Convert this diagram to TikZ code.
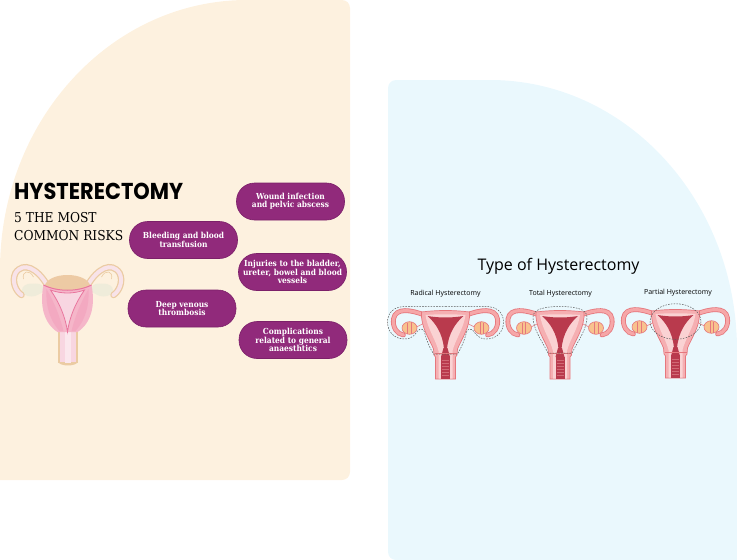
\documentclass[tikz,border=0pt]{standalone}
\usepackage{fontspec}
\setmainfont{DejaVu Serif}
\newfontfamily\headfont{Poppins}
\newfontfamily\slabfont{DejaVu Serif Condensed}
\newfontfamily\pillfont{DejaVu Serif Condensed}
\newfontfamily\typefont{Open Sans}
\definecolor{cream}{HTML}{FDF1DF}
\definecolor{skyb}{HTML}{EAF8FD}
\definecolor{pillc}{HTML}{912A7B}
\definecolor{pilld}{HTML}{7C2069}
\definecolor{bodyout}{HTML}{F5AFB2}
\definecolor{bodyin}{HTML}{FAD2D3}
\definecolor{outl}{HTML}{E6777D}
\definecolor{cav}{HTML}{B93A4D}
\definecolor{tubein}{HTML}{F6A7A8}
\definecolor{ovary}{HTML}{F8C28E}
\definecolor{beige}{HTML}{EBCBA3}
\definecolor{lpink}{HTML}{F5B6C9}
\definecolor{vpink}{HTML}{F8D6E1}
\definecolor{mpink}{HTML}{E9769E}
\definecolor{tubel}{HTML}{F8E3E9}
\definecolor{pale}{HTML}{EFECDA}
\definecolor{dome}{HTML}{EDCAA4}
\tikzset{
  pill/.style={rectangle, rounded corners=18pt, fill=pillc, draw=pilld, line width=0.6pt,
    minimum width=108pt, minimum height=37pt, text=white, align=center,
    font=\pillfont\bfseries\fontsize{8.3}{8.4}\selectfont, inner sep=1pt},
  lbl/.style={font=\typefont\fontsize{7}{8}\selectfont, text=black, inner sep=0pt},
  cut/.style={dashed, dash pattern=on 1.6pt off 1.2pt, draw=black!65, line width=0.5pt},
  uterusR/.pic={
    \foreach \s in {1,-1}{
      \begin{scope}[xscale=\s]
        \draw[outl, line width=4.8pt, line cap=round] (-21,4) .. controls (-34,-1) and (-50,-4) .. (-52,8) .. controls (-53,16) and (-49,23) .. (-42,24);
        \draw[tubein, line width=3.2pt, line cap=round] (-21,4) .. controls (-34,-1) and (-50,-4) .. (-52,8) .. controls (-53,16) and (-49,23) .. (-42,24);
        \draw[outl, line width=0.6pt] (-21,12) -- (-31,17);
        \draw[fill=ovary, draw=outl, line width=0.6pt] (-36,17) ellipse [x radius=7.5, y radius=6.3];
        \draw[outl, line width=0.3pt] (-38,11.5) -- (-38,22.5) (-34.5,11) -- (-34.5,23);
      \end{scope}
    }
    \draw[fill=bodyout, draw=outl, line width=0.7pt]
      (-24,1) .. controls (-8,-1) and (8,-1) .. (24,1)
      .. controls (25,16) and (16,28) .. (12,38) -- (11.5,44) -- (10,46) -- (10,68) -- (-10,68)
      -- (-10,46) -- (-11.5,44) -- (-12,38) .. controls (-16,28) and (-25,16) .. (-24,1) -- cycle;
    \fill[bodyin] (-20,4) .. controls (-8,3) and (8,3) .. (20,4) .. controls (18,18) and (10,28) .. (7,40)
      -- (7,67.5) -- (-7,67.5) -- (-7,40) .. controls (-10,28) and (-18,18) .. (-20,4) -- cycle;
    \fill[cav] (-18,5) .. controls (-6,7) and (6,7) .. (18,5) .. controls (10,12) and (3,22) .. (1.5,38)
      -- (-1.5,38) .. controls (-3,22) and (-10,12) .. (-18,5) -- cycle;
    \fill[cav] (-2,37) -- (2,37) -- (4.5,46) -- (-4.5,46) -- cycle;
    \fill[cav] (-4.5,46) rectangle (4.5,67.5);
    \foreach \yy in {49,52,...,65}{\draw[bodyout!40!cav, line width=0.3pt] (-3.5,\yy) -- (3.5,\yy);}
    \draw[outl, line width=0.5pt] (-11,42) -- (11,42);
  },
  uterusL/.pic={
    \foreach \s in {1,-1}{
      \begin{scope}[xscale=\s]
        \fill[pale] (-36,15) ellipse [x radius=9.5, y radius=6.5];
        \draw[beige, line width=6.5pt, line cap=round] (-21,9) .. controls (-30,-6) and (-44,-14) .. (-52,-2) .. controls (-56,6) and (-52,16) .. (-46,20);
        \draw[tubel, line width=4pt, line cap=round] (-21,9) .. controls (-30,-6) and (-44,-14) .. (-52,-2) .. controls (-56,6) and (-52,16) .. (-46,20);
        \draw[beige, line width=0.6pt] (-44,4) .. controls (-46,-4) and (-38,-6) .. (-34,2);
        \fill[pale] (-31,14) ellipse [x radius=7, y radius=5.5];
      \end{scope}
    }
    \fill[dome] (-23,12) .. controls (-21,-4) and (21,-4) .. (23,12) .. controls (10,17) and (-10,17) .. (-23,12) -- cycle;
    \fill[beige] (-10,55) rectangle (10,88);
    \fill[beige] (-10,86) .. controls (-10,92) and (10,92) .. (10,86) -- cycle;
    \fill[vpink] (-8,55) rectangle (8,87);
    \fill[white!40!vpink] (-3,56) rectangle (3,88);
    \fill[lpink] (-24,10) .. controls (-28,30) and (-24,48) .. (-10,57) -- (10,57)
      .. controls (24,48) and (28,30) .. (24,10) .. controls (10,17) and (-10,17) .. (-24,10) -- cycle;
    \fill[lpink!80!mpink] (-21,14) .. controls (-22,30) and (-18,45) .. (-8,56) -- (-4,56) .. controls (-8,40) and (-14,26) .. (-21,14) -- cycle;
    \fill[lpink!80!mpink] (21,14) .. controls (22,30) and (18,45) .. (8,56) -- (4,56) .. controls (8,40) and (14,26) .. (21,14) -- cycle;
    \draw[mpink, line width=0.8pt, fill=vpink] (-17,15) .. controls (-6,19) and (6,19) .. (17,15)
      .. controls (8,28) and (2,42) .. (0,57) .. controls (-2,42) and (-8,28) .. (-17,15) -- cycle;
    \draw[mpink, line width=1pt] (-24,10) .. controls (-10,17) and (10,17) .. (24,10);
  }
}
\begin{document}
\begin{tikzpicture}[x=1pt,y=-1pt]
\useasboundingbox (0,0) rectangle (737,560);
% panels
\fill[cream] (0,270) .. controls (0,120.9) and (110.6,0) .. (247,0) -- (342,0)
  .. controls (346.4,0) and (350,3.6) .. (350,8) -- (350,472) .. controls (350,476.4) and (346.4,480) .. (342,480)
  -- (0,480) -- cycle;
\fill[skyb] (388,88) .. controls (388,83.6) and (391.6,80) .. (396,80) -- (490,80)
  .. controls (626.4,80) and (737,200.9) .. (737,350) -- (737,560) -- (396,560)
  .. controls (391.6,560) and (388,556.4) .. (388,552) -- cycle;
% left titles
\node[anchor=base west, inner sep=0pt, font=\headfont\bfseries\fontsize{23}{24}\selectfont] (title) at (14,199) {\scalebox{0.91}[1]{HYSTERECTOMY}};
\node[anchor=base west, inner sep=0pt, font=\slabfont\fontsize{13.6}{14}\selectfont] (sub1) at (14,222) {5 THE MOST};
\node[anchor=base west, inner sep=0pt, font=\slabfont\fontsize{13.6}{14}\selectfont] (sub2) at (14,240) {COMMON RISKS};
% pills
\node[pill] (p1) at (290.5,201.5) {Wound infection\\and pelvic abscess};
\node[pill] (p2) at (183.5,240) {Bleeding and blood\\transfusion};
\node[pill] (p3) at (292.5,272) {Injuries to the bladder,\\ureter, bowel and blood\\vessels};
\node[pill] (p4) at (182,308.5) {Deep venous\\thrombosis};
\node[pill] (p5) at (293,340) {Complications\\related to general\\anaesthtics};
% left uterus
\pic at (67.5,275) {uterusL};
% right title
\node[anchor=base, inner sep=0pt, font=\typefont\fontsize{16}{18}\selectfont] (ttl) at (558.5,270.5) {Type of Hysterectomy};
\node[lbl, anchor=base] (l1) at (445.5,295) {Radical Hysterectomy};
\node[lbl, anchor=base] (l2) at (560.5,295) {Total Hysterectomy};
\node[lbl, anchor=base] (l3) at (678,294) {Partial Hysterectomy};
% figures
\pic at (445.5,311) {uterusR};
\pic at (560,311) {uterusR};
\pic at (675.5,310) {uterusR};
% cut lines
\begin{scope}[shift={(445.5,311)}]
\draw[cut] (0,-4.5) -- (40,-4.5) .. controls (52,-4.5) and (58,2) .. (58,11) .. controls (58,21) and (51,28) .. (41,28)
  .. controls (33,28) and (30,23) .. (28,20) .. controls (25,17) and (22,18) .. (21,21) .. controls (19,30) and (15,38) .. (12,43)
  -- (-12,43) .. controls (-15,38) and (-19,30) .. (-21,21) .. controls (-22,18) and (-25,17) .. (-28,20)
  .. controls (-30,23) and (-33,28) .. (-41,28) .. controls (-51,28) and (-58,21) .. (-58,11)
  .. controls (-58,2) and (-52,-4.5) .. (-40,-4.5) -- cycle;
\end{scope}
\begin{scope}[shift={(560,311)}]
\draw[cut] (-12,42) .. controls (-18,30) and (-27,18) .. (-27,6) .. controls (-27,-2) and (-15,-4.5) .. (0,-4.5)
  .. controls (15,-4.5) and (27,-2) .. (27,6) .. controls (27,18) and (18,30) .. (12,42) -- cycle;
\end{scope}
\begin{scope}[shift={(675.5,310)}]
\draw[cut] (0,11.5) ellipse [x radius=25.5, y radius=17.8];
\end{scope}
\end{tikzpicture}
\end{document}
